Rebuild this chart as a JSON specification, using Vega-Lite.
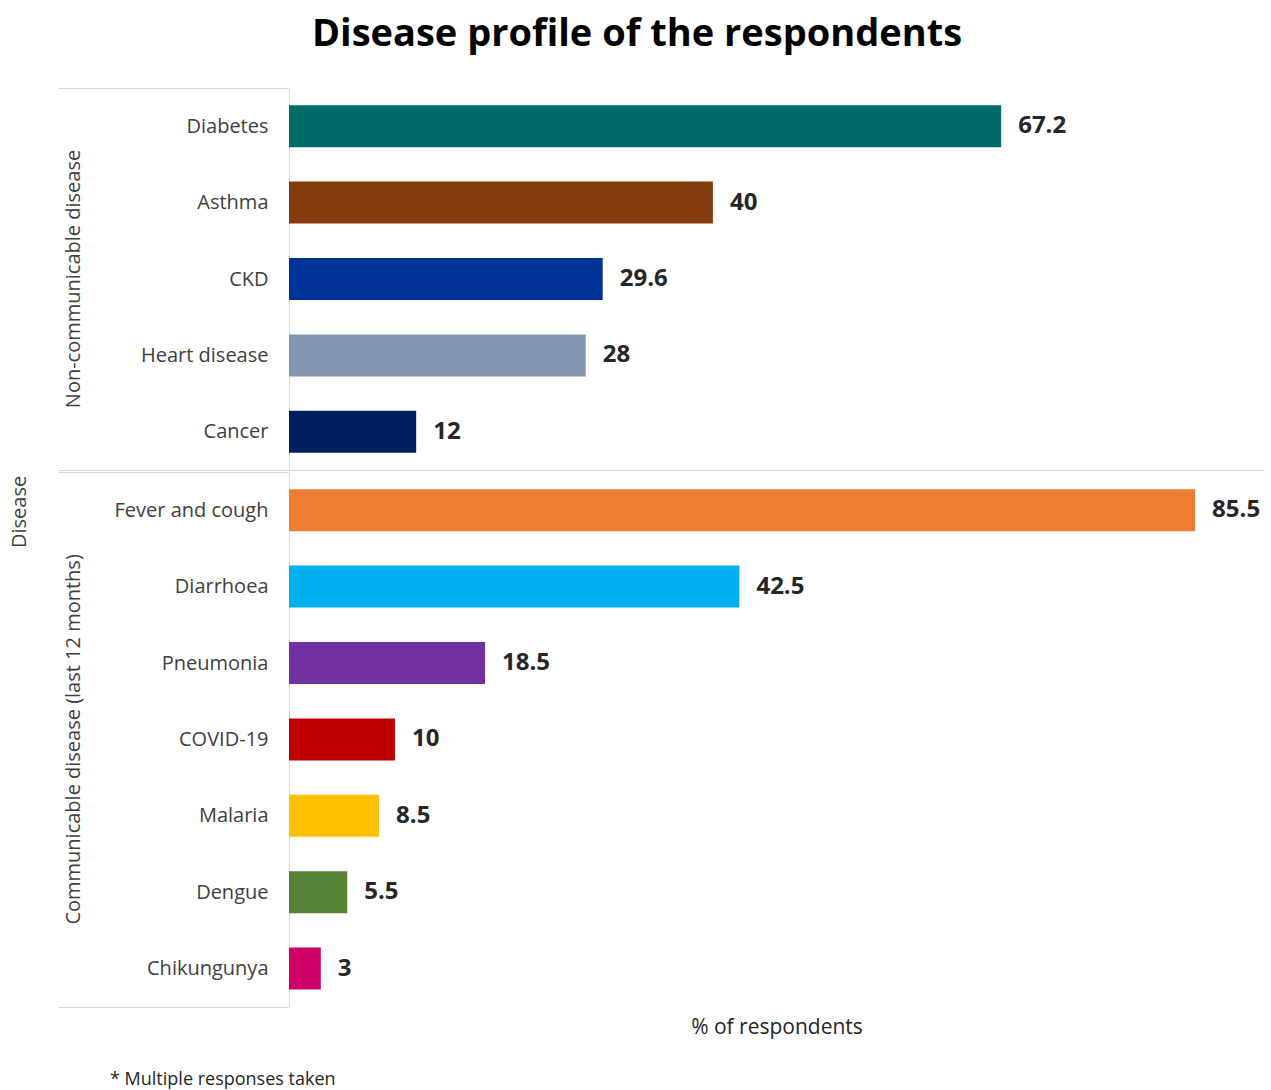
{
  "$schema": "https://vega.github.io/schema/vega-lite/v6.json",
  "background": "white",
  "padding": {"left": 10, "top": 15, "right": 0, "bottom": 0},
  "title": {
    "text": "* Multiple responses taken",
    "orient": "bottom",
    "anchor": "start",
    "frame": "bounds",
    "dx": 100,
    "offset": 34,
    "font": "Open Sans",
    "fontSize": 18,
    "fontWeight": "normal",
    "color": "#262626"
  },
  "vconcat": [
    {
      "title": {
        "text": "Disease profile of the respondents",
        "anchor": "middle",
        "frame": "bounds",
        "offset": 34,
        "font": "Open Sans",
        "fontSize": 38,
        "fontWeight": "bold",
        "color": "#000000"
      },
      "data": {
        "values": [
          {"group": "Non-communicable disease", "disease": "Diabetes", "value": 67.2},
          {"group": "Non-communicable disease", "disease": "Asthma", "value": 40},
          {"group": "Non-communicable disease", "disease": "CKD", "value": 29.6},
          {"group": "Non-communicable disease", "disease": "Heart disease", "value": 28},
          {"group": "Non-communicable disease", "disease": "Cancer", "value": 12},
          {"group": "Communicable disease (last 12 months)", "disease": "Fever and cough", "value": 85.5},
          {"group": "Communicable disease (last 12 months)", "disease": "Diarrhoea", "value": 42.5},
          {"group": "Communicable disease (last 12 months)", "disease": "Pneumonia", "value": 18.5},
          {"group": "Communicable disease (last 12 months)", "disease": "COVID-19", "value": 10},
          {"group": "Communicable disease (last 12 months)", "disease": "Malaria", "value": 8.5},
          {"group": "Communicable disease (last 12 months)", "disease": "Dengue", "value": 5.5},
          {"group": "Communicable disease (last 12 months)", "disease": "Chikungunya", "value": 3}
        ]
      },
      "facet": {
        "row": {
          "field": "group",
          "type": "nominal",
          "sort": ["Non-communicable disease", "Communicable disease (last 12 months)"],
          "title": "Disease",
          "header": {
            "labelAngle": -90,
            "labelOrient": "left",
            "labelFont": "Open Sans",
            "labelFontSize": 20,
            "labelColor": "#404040",
            "labelPadding": -37,
            "titleOrient": "left",
            "titleAlign": "left",
            "titleFont": "Open Sans",
            "titleFontSize": 20,
            "titleFontWeight": "normal",
            "titleColor": "#404040",
            "titlePadding": 17
          }
        }
      },
      "spacing": {"row": 0},
      "resolve": {"scale": {"y": "independent"}},
      "spec": {
        "width": 975,
        "height": {"step": 76.4},
        "encoding": {
          "y": {
            "field": "disease",
            "type": "nominal",
            "sort": null,
            "scale": {"paddingInner": 0, "paddingOuter": 0},
            "axis": {
              "title": null,
              "tickBand": "extent",
              "tickSize": 231,
              "tickColor": {
                "condition": {
                  "test": "datum.extra || datum.value === 'Cancer' || datum.value === 'Chikungunya'",
                  "value": "#D9D9D9"
                },
                "value": "transparent"
              },
              "grid": true,
              "gridColor": {
                "condition": {"test": "datum.value === 'Cancer'", "value": "#D9D9D9"},
                "value": "transparent"
              },
              "domainColor": "#D9D9D9",
              "labelPadding": -210,
              "labelFont": "Open Sans",
              "labelFontSize": {
                "condition": {"test": "datum.extra", "value": 0},
                "value": 20
              },
              "labelColor": "#404040"
            }
          },
          "x": {
            "field": "value",
            "type": "quantitative",
            "scale": {"domain": [0, 92]},
            "axis": {
              "title": "% of respondents",
              "labels": false,
              "ticks": false,
              "domain": false,
              "grid": false,
              "titleFont": "Open Sans",
              "titleFontSize": 21,
              "titleFontWeight": "normal",
              "titleColor": "#262626",
              "titlePadding": 8
            }
          }
        },
        "layer": [
          {
            "mark": {"type": "bar", "height": {"band": 0.55}},
            "encoding": {
              "color": {
                "field": "disease",
                "type": "nominal",
                "legend": null,
                "scale": {
                  "domain": ["Diabetes", "Asthma", "CKD", "Heart disease", "Cancer", "Fever and cough", "Diarrhoea", "Pneumonia", "COVID-19", "Malaria", "Dengue", "Chikungunya"],
                  "range": ["#006B68", "#843C0C", "#003399", "#8497B0", "#002060", "#ED7D31", "#00B0F0", "#7030A0", "#C00000", "#FFC000", "#548235", "#CC0066"]
                }
              }
            }
          },
          {
            "mark": {
              "type": "text",
              "align": "left",
              "baseline": "middle",
              "dx": 17,
              "font": "Open Sans",
              "fontSize": 24,
              "fontWeight": "bold",
              "color": "#262626"
            },
            "encoding": {"text": {"field": "value", "type": "quantitative"}}
          }
        ]
      }
    }
  ],
  "config": {"view": {"stroke": null}}
}
